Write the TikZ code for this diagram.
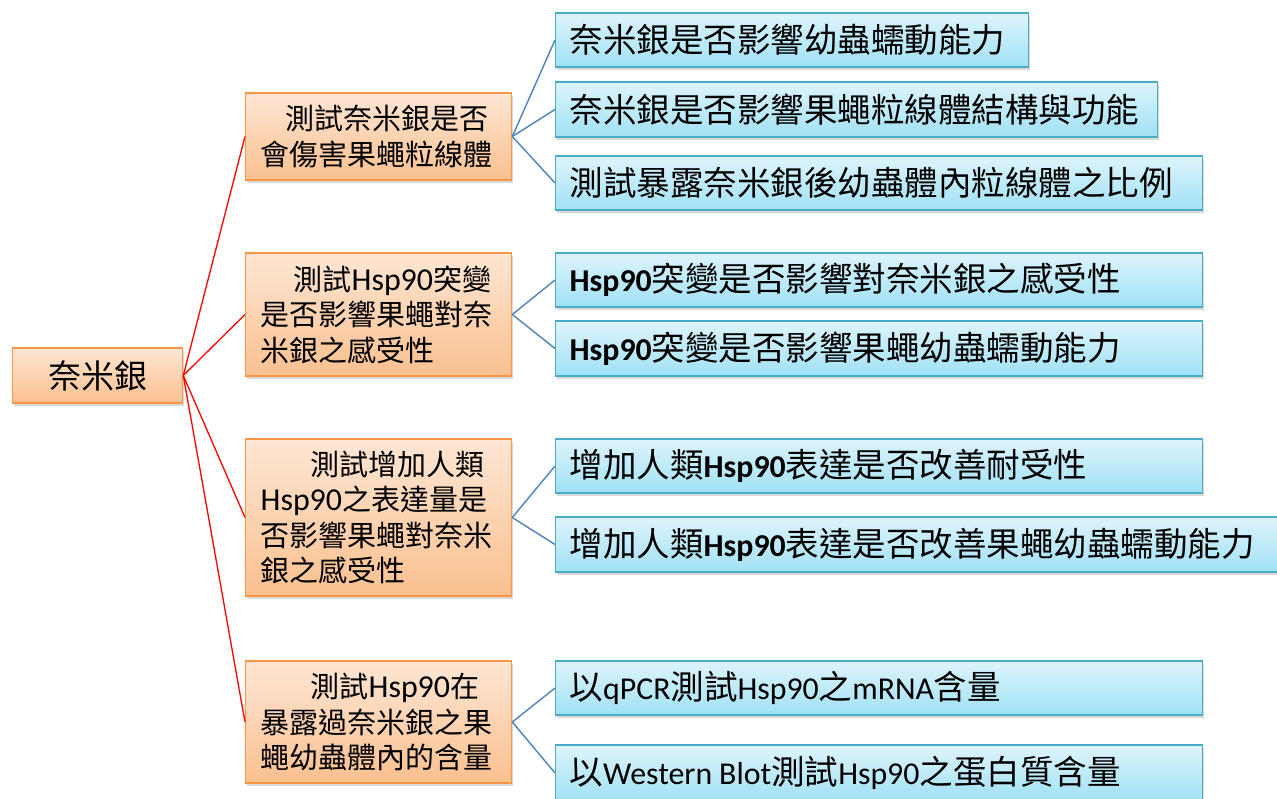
\documentclass[tikz,border=0pt]{standalone}
\usepackage{fontspec}
\setmainfont{Noto Sans CJK TC}
\newfontfamily\lat[Scale=0.95]{Carlito}
\newfontfamily\latm[Scale=1.1]{Carlito}
\usetikzlibrary{shadows}
\definecolor{orgtop}{RGB}{253,230,212}
\definecolor{orgbot}{RGB}{250,192,143}
\definecolor{orgdraw}{RGB}{247,150,70}
\definecolor{blutop}{RGB}{222,244,251}
\definecolor{blubot}{RGB}{160,225,245}
\definecolor{bludraw}{RGB}{75,172,198}
\definecolor{edgeblue}{RGB}{79,129,189}
\tikzset{
  box/.style={rectangle, line width=1.3pt, anchor=west, align=left,
    drop shadow={opacity=0.3, shadow xshift=1.5pt, shadow yshift=-3pt}},
  rootbox/.style={box, draw=orgdraw, top color=orgtop, bottom color=orgbot,
    align=center, font=\fontsize{33}{38}\selectfont, inner sep=0pt},
  midbox/.style={box, draw=orgdraw, top color=orgtop, bottom color=orgbot,
    inner xsep=15pt, inner ysep=0pt, text width=236pt,
    font=\fontsize{29}{35.5}\selectfont, minimum width=266pt},
  leafbox/.style={box, draw=bludraw, top color=blutop, bottom color=blubot,
    inner xsep=14pt, inner ysep=0pt, minimum height=54pt,
    font=\fontsize{33.5}{38}\selectfont},
  rededge/.style={draw=red, line width=1.3pt},
  blueedge/.style={draw=edgeblue, line width=1.4pt}
}
\begin{document}
\begin{tikzpicture}[x=1pt,y=-1pt]
\useasboundingbox (0,0) rectangle (1277,798);
% root
\node[rootbox, minimum width=170pt, minimum height=55pt] (root) at (12,375.5) {奈米銀};
% middle nodes
\node[midbox, minimum height=87pt] (m1) at (245,136.5)
  {\hspace*{25pt}測試奈米銀是否\\會傷害果蠅粒線體};
\node[midbox, minimum height=123pt] (m2) at (245,314.5)
  {\hspace*{33pt}測試{\latm Hsp90}突變\\是否影響果蠅對奈\\米銀之感受性};
\node[midbox, minimum height=157pt] (m3) at (245,517.5)
  {\hspace*{50pt}測試增加人類\\{\latm Hsp90}之表達量是\\否影響果蠅對奈米\\銀之感受性};
\node[midbox, minimum height=122pt] (m4) at (245,722)
  {\hspace*{50pt}測試{\latm Hsp90}在\\暴露過奈米銀之果\\蠅幼蟲體內的含量};
% leaves
\node[leafbox, text width=445pt] (l1) at (555,40) {奈米銀是否影響幼蟲蠕動能力};
\node[leafbox, text width=574pt, minimum height=55pt] (l2) at (555,109.5) {奈米銀是否影響果蠅粒線體結構與功能};
\node[leafbox, text width=619pt] (l3) at (555,183) {測試暴露奈米銀後幼蟲體內粒線體之比例};
\node[leafbox, text width=619pt] (l4) at (555,280) {{\lat\bfseries Hsp90}突變是否影響對奈米銀之感受性};
\node[leafbox, text width=619pt, minimum height=55pt] (l5) at (555,348.5) {{\lat\bfseries Hsp90}突變是否影響果蠅幼蟲蠕動能力};
\node[leafbox, text width=619pt] (l6) at (555,466) {增加人類{\lat\bfseries Hsp90}表達是否改善耐受性};
\node[leafbox, text width=712pt, minimum height=55pt] (l7) at (555,544.5) {增加人類{\lat\bfseries Hsp90}表達是否改善果蠅幼蟲蠕動能力};
\node[leafbox, text width=619pt] (l8) at (555,688) {以{\lat qPCR}測試{\lat Hsp90}之{\lat mRNA}含量};
\node[leafbox, text width=619pt, minimum height=56pt] (l9) at (555,773) {以{\lat Western\kern0.22em Blot}測試{\lat Hsp90}之蛋白質含量};
% edges
\foreach \m in {m1,m2,m3,m4} \draw[rededge] (root.east) -- (\m.west);
\draw[blueedge] (m1.east) -- (l1.west);
\draw[blueedge] (m1.east) -- (l2.west);
\draw[blueedge] (m1.east) -- (l3.west);
\draw[blueedge] (m2.east) -- (l4.west);
\draw[blueedge] (m2.east) -- (l5.west);
\draw[blueedge] (m3.east) -- (l6.west);
\draw[blueedge] (m3.east) -- (l7.west);
\draw[blueedge] (m4.east) -- (l8.west);
\draw[blueedge] (m4.east) -- (l9.west);
\end{tikzpicture}
\end{document}
